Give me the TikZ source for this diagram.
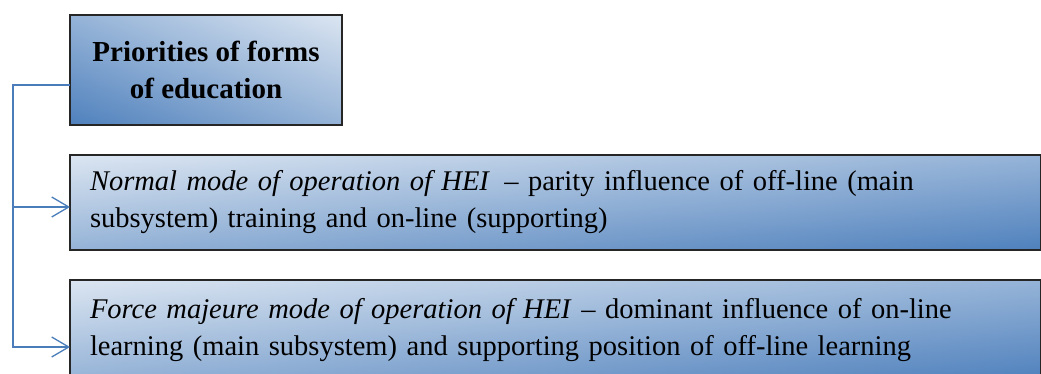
\documentclass[tikz,border=0pt]{standalone}
\usepackage{fontspec}
\setmainfont{Liberation Serif}
\usetikzlibrary{arrows.meta,backgrounds}
\definecolor{paleblue}{HTML}{DCE6F2}
\definecolor{officeblue}{HTML}{4F81BD}
\definecolor{linkblue}{HTML}{4A7EBB}
\begin{document}
\begin{tikzpicture}[x=1pt,y=-1pt,
  box/.style={draw=black!85, line width=1.2pt, rectangle, inner sep=0pt, outer sep=0pt},
  modebox/.style={box, anchor=north west, minimum width=971pt, text width=931pt,
    align=left, font=\fontsize{28.5}{37}\selectfont},
  link/.style={draw=linkblue, line width=1.3pt},
  tip/.style={-{Straight Barb[length=17pt,width=20pt]}},
  % a corner-to-corner gradient is the average of a horizontal and a vertical one:
  % the vertical one is laid at half opacity over the horizontal one
  vgrad/.style={top color=paleblue, bottom color=officeblue, opacity=0.5}]
\useasboundingbox (0,0) rectangle (1041,374);

% heading box
\node[box, minimum width=272pt, minimum height=110pt, align=center,
  font=\bfseries\fontsize{29}{37}\selectfont] (prio) at (206,70)
  {Priorities of forms\\of education};

% the two modes
\node[modebox, minimum height=95pt] (normal) at (70,155)
  {\textit{Normal mode of operation of HEI}\enspace -- parity influence of off-line (main\\
   subsystem) training and on-line (supporting)};
\node[modebox, minimum height=100pt] (force) at (70,280)
  {\textit{Force majeure mode of operation of HEI} -- dominant influence of on-line\\
   learning (main subsystem) and supporting position of off-line learning};

% gradient fills behind the boxes
\begin{scope}[on background layer]
  \shade[left color=officeblue, right color=paleblue] (prio.south west) rectangle (prio.north east);
  \shade[vgrad] (prio.south west) rectangle (prio.north east);
  \foreach \b in {normal,force}{
    \shade[left color=paleblue, right color=officeblue] (\b.south west) rectangle (\b.north east);
    \shade[vgrad] (\b.south west) rectangle (\b.north east);
  }
\end{scope}

% connectors
\coordinate (rail) at (13,0);
\coordinate (joint) at ([yshift=-15pt]prio.west);
\coordinate (in2) at ([yshift=-4.5pt]normal.west);
\coordinate (in3) at ([yshift=-17pt]force.west);
\draw[link, tip] (joint) -- (joint -| rail) |- (in3);
\draw[link, tip] (in2 -| rail) -- (in2);
\end{tikzpicture}
\end{document}
